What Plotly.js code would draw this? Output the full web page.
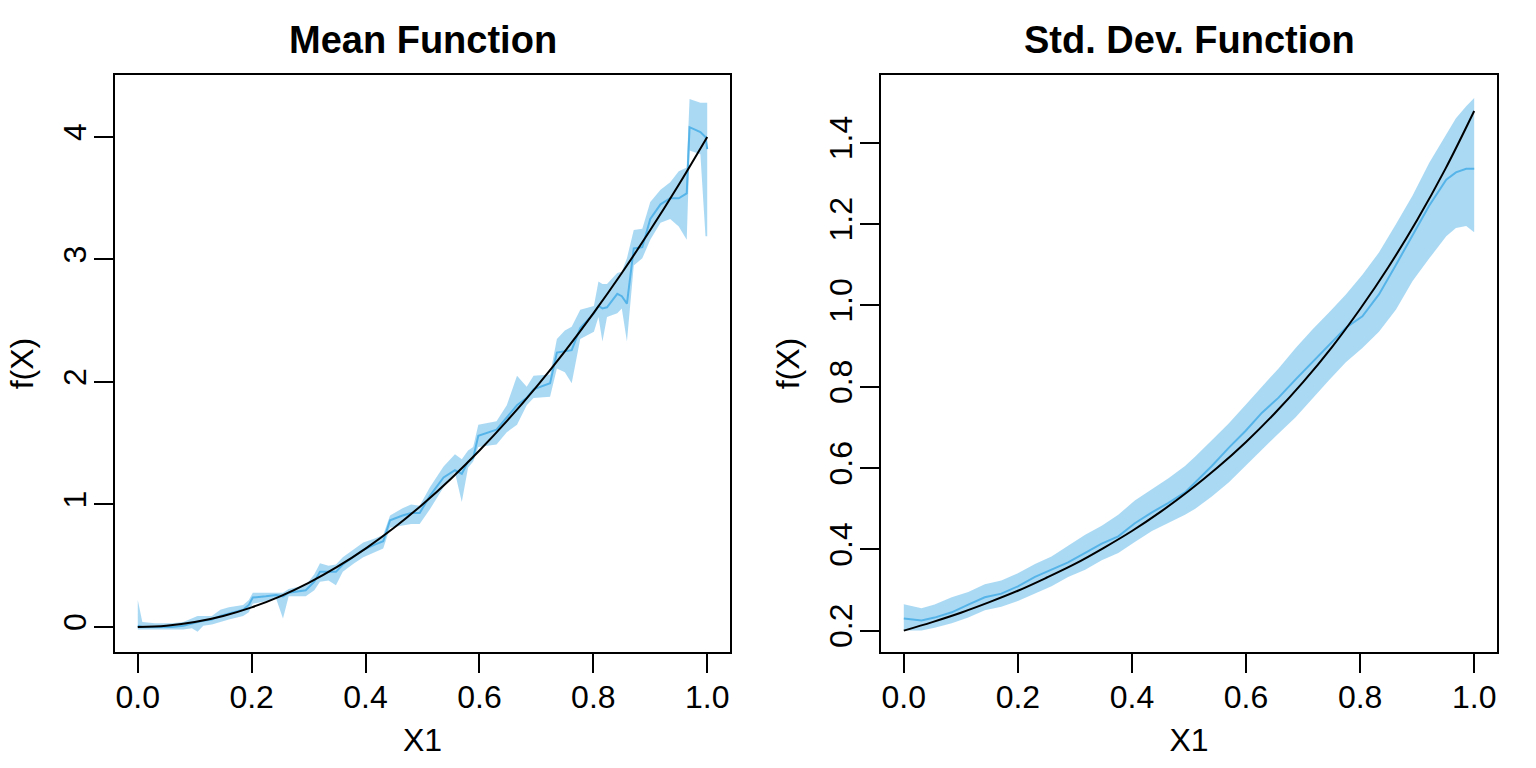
<!DOCTYPE html>
<html><head><meta charset="utf-8">
<script src="https://cdn.plot.ly/plotly-3.0.1.min.js"></script>
<style>html,body{margin:0;padding:0;background:#fff}#chart{width:1536px;height:768px}</style>
</head><body><div id="chart"></div>
<script>
// ---- Mean function panel: posterior band + posterior mean ----
const meanX = [0,0.008,0.03,0.06,0.08,0.095,0.105,0.115,0.13,0.145,0.16,0.185,0.195,0.202,0.225,0.243,0.255,0.265,0.295,0.31,0.32,0.335,0.348,0.36,0.38,0.396,0.415,0.431,0.443,0.465,0.48,0.495,0.513,0.537,0.557,0.569,0.58,0.589,0.598,0.63,0.648,0.666,0.683,0.695,0.724,0.736,0.75,0.762,0.777,0.801,0.809,0.816,0.824,0.842,0.85,0.859,0.871,0.886,0.9,0.918,0.935,0.95,0.964,0.969,0.988,0.997,1.0];
const meanLo = [-0.02,-0.02,-0.02,-0.02,-0.02,-0.01,-0.04,0.01,0.02,0.04,0.06,0.09,0.12,0.19,0.21,0.23,0.07,0.25,0.25,0.30,0.37,0.38,0.34,0.45,0.52,0.57,0.61,0.64,0.81,0.83,0.84,0.84,0.96,1.14,1.26,1.02,1.30,1.35,1.47,1.49,1.59,1.65,1.81,1.87,1.88,2.11,2.08,1.99,2.35,2.41,2.53,2.33,2.53,2.56,2.60,2.33,2.95,3.01,3.16,3.30,3.33,3.27,3.16,3.89,3.86,3.19,3.19];
const meanMid = [0.01,0.00,0.00,0.00,0.01,0.03,0.04,0.05,0.06,0.09,0.11,0.14,0.18,0.24,0.25,0.26,0.25,0.28,0.30,0.37,0.45,0.45,0.45,0.51,0.58,0.63,0.67,0.70,0.87,0.91,0.93,0.93,1.07,1.22,1.28,1.25,1.35,1.38,1.56,1.61,1.71,1.81,1.87,1.94,1.99,2.24,2.25,2.26,2.44,2.56,2.62,2.60,2.61,2.72,2.70,2.64,3.09,3.10,3.33,3.45,3.50,3.50,3.54,4.08,4.04,4.00,3.90];
const meanHi = [0.22,0.04,0.03,0.03,0.04,0.07,0.09,0.09,0.09,0.14,0.16,0.18,0.22,0.28,0.28,0.28,0.28,0.31,0.34,0.43,0.52,0.50,0.51,0.57,0.64,0.69,0.72,0.75,0.91,0.97,1.00,0.99,1.14,1.31,1.41,1.37,1.44,1.47,1.65,1.68,1.81,2.05,1.96,2.05,2.06,2.35,2.42,2.45,2.59,2.62,2.82,2.80,2.80,2.89,2.90,3.01,3.24,3.25,3.47,3.57,3.63,3.72,3.75,4.31,4.28,4.28,4.28];

// ---- Std. dev. function panel ----
const sdX = [0,0.031,0.054,0.084,0.113,0.142,0.171,0.2,0.23,0.259,0.288,0.318,0.347,0.376,0.405,0.435,0.464,0.493,0.511,0.54,0.57,0.599,0.628,0.657,0.687,0.716,0.745,0.775,0.804,0.833,0.863,0.892,0.921,0.951,0.968,0.986,1.0];
const sdLo = [0.2,0.2,0.207,0.218,0.232,0.25,0.259,0.273,0.291,0.309,0.332,0.35,0.373,0.391,0.418,0.445,0.464,0.485,0.50,0.53,0.565,0.605,0.645,0.685,0.725,0.77,0.815,0.86,0.895,0.935,0.99,1.06,1.115,1.17,1.19,1.195,1.18];
const sdMid = [0.23,0.225,0.232,0.245,0.264,0.282,0.291,0.309,0.332,0.35,0.368,0.391,0.414,0.432,0.464,0.491,0.514,0.54,0.564,0.605,0.65,0.691,0.736,0.773,0.818,0.859,0.9,0.945,0.973,1.027,1.1,1.173,1.245,1.309,1.327,1.336,1.336];
const sdHi = [0.265,0.255,0.264,0.282,0.295,0.314,0.323,0.341,0.364,0.382,0.409,0.436,0.458,0.485,0.52,0.548,0.575,0.605,0.628,0.668,0.71,0.755,0.8,0.845,0.895,0.94,0.982,1.027,1.075,1.13,1.2,1.27,1.35,1.42,1.46,1.49,1.51];

// ---- True functions (black curves) ----
const truthX = [0,0.05,0.1,0.15,0.2,0.25,0.3,0.35,0.4,0.45,0.5,0.55,0.6,0.65,0.7,0.75,0.8,0.85,0.9,0.95,1.0];
const meanTruth = [0,0.01,0.04,0.09,0.16,0.25,0.36,0.49,0.64,0.81,1.0,1.21,1.44,1.69,1.96,2.25,2.56,2.89,3.24,3.61,4.0];
const sdTruth = [0.200,0.221,0.244,0.270,0.298,0.330,0.364,0.403,0.445,0.492,0.544,0.601,0.664,0.734,0.811,0.896,0.991,1.095,1.210,1.337,1.478];

// ---- Tick labels ----
const xTickVals = [0,0.2,0.4,0.6,0.8,1.0];
const xTickText = ['0.0','0.2','0.4','0.6','0.8','1.0'];
const meanYTickVals = [0,1,2,3,4];
const meanYTickText = ['0','1','2','3','4'];
const sdYTickVals = [0.2,0.4,0.6,0.8,1.0,1.2,1.4];
const sdYTickText = ['0.2','0.4','0.6','0.8','1.0','1.2','1.4'];

const FONT = 'Liberation Sans, Arial, Helvetica, sans-serif';
const BAND = 'rgba(86,180,233,0.5)';
const MEANLINE = '#56B4E9';

function band(x, lo, hi, xa, ya) {
  return {x: x.concat(x.slice().reverse()), y: hi.concat(lo.slice().reverse()),
    xaxis: xa, yaxis: ya, type: 'scatter', mode: 'lines', fill: 'toself',
    fillcolor: BAND, line: {width: 0, color: BAND}, hoverinfo: 'skip', showlegend: false};
}
function line(x, y, xa, ya, color, shape) {
  return {x: x, y: y, xaxis: xa, yaxis: ya, type: 'scatter', mode: 'lines',
    line: {color: color, width: 2, shape: shape || 'linear'}, showlegend: false};
}

const data = [
  band(meanX, meanLo, meanHi, 'x', 'y'),
  line(meanX, meanMid, 'x', 'y', MEANLINE),
  line(truthX, meanTruth, 'x', 'y', '#000', 'spline'),
  band(sdX, sdLo, sdHi, 'x2', 'y2'),
  line(sdX, sdMid, 'x2', 'y2', MEANLINE),
  line(truthX, sdTruth, 'x2', 'y2', '#000', 'spline')
];

const tf = {family: FONT, size: 32, color: '#000'};
function xAxis(domain, anchor) {
  return {domain: domain, anchor: anchor, range: [-0.04, 1.04], tickmode: 'array',
    tickvals: xTickVals, ticktext: xTickText, ticks: 'outside', ticklen: 19, tickwidth: 2,
    tickcolor: '#000', showline: true, linewidth: 2, linecolor: '#000', mirror: true,
    showgrid: false, zeroline: false, tickfont: tf, ticklabelstandoff: -3,
    title: {text: 'X1', font: tf, standoff: 14}};
}
function yAxis(domain, anchor, range, vals, text) {
  return {domain: domain, anchor: anchor, range: range, tickmode: 'array',
    tickvals: vals, ticktext: text, ticks: 'outside', ticklen: 19, tickwidth: 2,
    tickcolor: '#000', showline: true, linewidth: 2, linecolor: '#000', mirror: true,
    showgrid: false, zeroline: false, tickfont: tf, tickangle: -90, ticklabelstandoff: -5,
    title: {text: 'f(X)', font: tf, standoff: 14}};
}

const yDom = [1 - 652/768, 1 - 75/768];
const layout = {
  width: 1536, height: 768,
  margin: {l: 0, r: 0, t: 0, b: 0},
  paper_bgcolor: '#fff', plot_bgcolor: '#fff',
  showlegend: false,
  xaxis: xAxis([115/1536, 730/1536], 'y'),
  yaxis: yAxis(yDom, 'x', [-0.2045, 4.506], meanYTickVals, meanYTickText),
  xaxis2: xAxis([881/1536, 1497/1536], 'y2'),
  yaxis2: yAxis(yDom, 'x2', [0.1474, 1.5666], sdYTickVals, sdYTickText),
  annotations: [
    {text: '<b>Mean Function</b>', xref: 'paper', yref: 'paper', x: 422.5/1536, y: 1 - 40/768,
      xanchor: 'center', yanchor: 'middle', showarrow: false, font: {family: FONT, size: 38, color: '#000'}},
    {text: '<b>Std. Dev. Function</b>', xref: 'paper', yref: 'paper', x: 1189/1536, y: 1 - 40/768,
      xanchor: 'center', yanchor: 'middle', showarrow: false, font: {family: FONT, size: 38, color: '#000'}}
  ]
};

Plotly.newPlot('chart', data, layout, {displayModeBar: false, staticPlot: true});
</script></body></html>
